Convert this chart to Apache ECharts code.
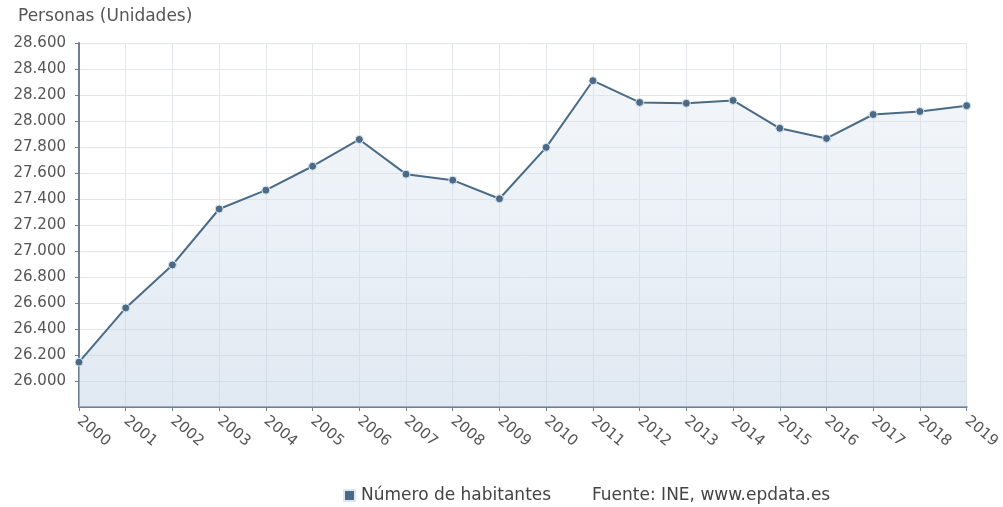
<!DOCTYPE html>
<html>
<head>
<meta charset="utf-8">
<script src="https://cdn.jsdelivr.net/npm/echarts@6/dist/echarts.min.js"></script>
<style>
  html, body { margin: 0; padding: 0; background: #fff; }
  #chart { width: 1003px; height: 507px; }
</style>
</head>
<body>
<div id="chart"></div>
<script>
// Población por año (número de habitantes)
const years = ['2000','2001','2002','2003','2004','2005','2006','2007','2008','2009',
               '2010','2011','2012','2013','2014','2015','2016','2017','2018','2019'];
const habitantes = [26145, 26562, 26893, 27323, 27468, 27652, 27858, 27591, 27545, 27402,
                    27797, 28310, 28143, 28136, 28158, 27944, 27866, 28050, 28073, 28118];
const seriesName = 'Número de habitantes';
const yAxisTitle = 'Personas (Unidades)';
const sourceText = 'Fuente: INE, www.epdata.es';

const font = '"DejaVu Sans", "Open Sans", sans-serif';
const lineColor = '#4b6a86';

const chart = echarts.init(document.getElementById('chart'), null, { renderer: 'canvas' });

chart.setOption({
  animation: false,
  backgroundColor: '#ffffff',
  grid: { left: 79, right: 33, top: 43, bottom: 100, containLabel: false },
  title: {
    text: yAxisTitle,
    left: 18, top: 8, padding: 0,
    textStyle: { fontFamily: font, fontSize: 17, fontWeight: 'normal', color: '#555' }
  },
  legend: {
    data: [{ name: seriesName, icon: 'rect' }],
    left: 343, top: 487, padding: 0,
    itemWidth: 11, itemHeight: 11, itemGap: 10,
    textStyle: { fontFamily: font, fontSize: 17, color: '#444', padding: [0, 0, 0, 1] }
  },
  graphic: [{
    type: 'text',
    left: 592, top: 487,
    style: { text: sourceText, font: '17px ' + font, fill: '#444' }
  }],
  xAxis: {
    type: 'category',
    data: years,
    boundaryGap: false,
    axisLine: { lineStyle: { color: '#6f7f8f', width: 2 } },
    axisTick: { show: true, alignWithLabel: true, length: 4, lineStyle: { color: '#6f7f8f' } },
    axisLabel: { rotate: -40, fontFamily: font, fontSize: 15, color: '#555', margin: 12, interval: 0 },
    splitLine: { show: true, lineStyle: { color: '#e3e6ea', width: 1 } }
  },
  yAxis: {
    type: 'value',
    min: 25800, max: 28600, interval: 200,
    axisLine: { show: true, lineStyle: { color: '#6f7f8f', width: 2 } },
    axisTick: { show: true, length: 4, lineStyle: { color: '#6f7f8f' } },
    axisLabel: {
      showMinLabel: false,
      fontFamily: font, fontSize: 15, color: '#555', margin: 13,
      formatter: v => (v / 1000).toFixed(3)
    },
    splitLine: { show: true, lineStyle: { color: '#e3e6ea', width: 1 } }
  },
  series: [{
    name: seriesName,
    type: 'line',
    data: habitantes,
    symbol: 'circle',
    symbolSize: 8,
    itemStyle: { color: lineColor, borderColor: '#dbe8f4', borderWidth: 1 },
    lineStyle: { color: lineColor, width: 2 },
    areaStyle: {
      color: new echarts.graphic.LinearGradient(0, 0, 0, 1, [
        { offset: 0, color: 'rgba(214,226,238,0.45)' },
        { offset: 1, color: 'rgba(196,212,230,0.75)' }
      ])
    }
  }]
});
</script>
</body>
</html>
